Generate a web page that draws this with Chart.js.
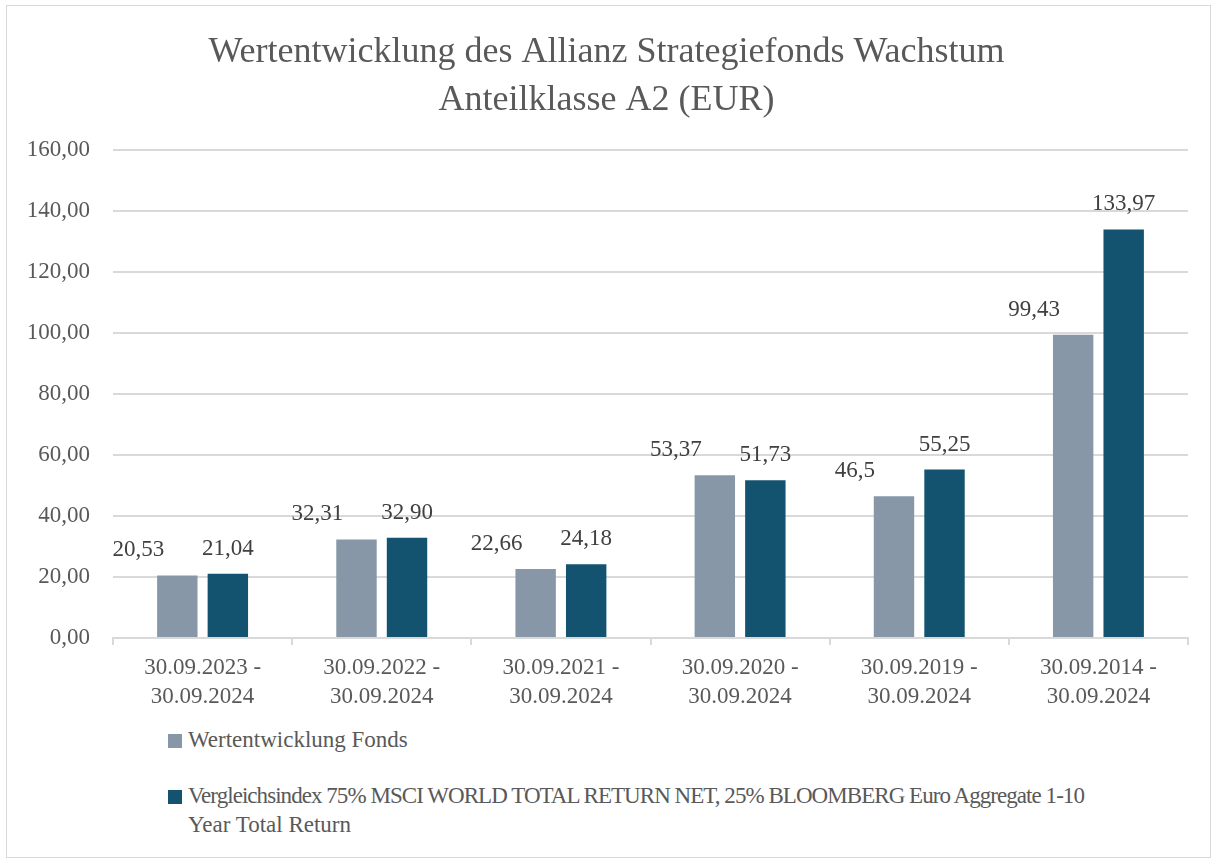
<!DOCTYPE html>
<html>
<head>
<meta charset="utf-8">
<script src="https://cdn.jsdelivr.net/npm/chart.js@4"></script>
<style>
  body { margin: 0; background: #fff; }
  #frame { position: absolute; left: 6px; top: 5px; width: 1203px; height: 851px; border: 1px solid #d9d9d9; }
  #wrap { position: absolute; left: 0; top: 0; width: 1213px; height: 724px; }
  .leg { position: absolute; left: 168px; font: 23px 'Liberation Serif', 'Times New Roman', serif; line-height: 29px; color: #595959; }
  .leg .box { position: absolute; left: 0; top: 9px; width: 14px; height: 14px; }
  .leg .txt { display: block; margin-left: 20px; white-space: nowrap; }
  .leg .tight { letter-spacing: -0.95px; }
</style>
</head>
<body>
<div id="frame"></div>
<div id="wrap"><canvas id="chart"></canvas></div>
<div id="legend"></div>
<script>
var periods = [
  ['30.09.2023 -', '30.09.2024'],
  ['30.09.2022 -', '30.09.2024'],
  ['30.09.2021 -', '30.09.2024'],
  ['30.09.2020 -', '30.09.2024'],
  ['30.09.2019 -', '30.09.2024'],
  ['30.09.2014 -', '30.09.2024']
];
var fondsValues = [20.53, 32.31, 22.66, 53.37, 46.5, 99.43];
var indexValues = [21.04, 32.90, 24.18, 51.73, 55.25, 133.97];
var fondsLabels = ['20,53', '32,31', '22,66', '53,37', '46,5', '99,43'];
var indexLabels = ['21,04', '32,90', '24,18', '51,73', '55,25', '133,97'];
var seriesNames = [
  'Wertentwicklung Fonds',
  'Vergleichsindex 75% MSCI WORLD TOTAL RETURN NET, 25% BLOOMBERG Euro Aggregate 1-10\nYear Total Return'
];
var yTicks = [0, 20, 40, 60, 80, 100, 120, 140, 160];
var colors = ['#8797a8', '#14536f'];

var serif = "'Liberation Serif', 'Times New Roman', serif";

// value labels above the bars (fund labels sit left of their bar, like the original)
var valueLabels = {
  id: 'valueLabels',
  afterDatasetsDraw: function (chart) {
    var ctx = chart.ctx;
    var texts = [fondsLabels, indexLabels];
    ctx.save();
    ctx.font = '23px ' + serif;
    ctx.fillStyle = '#404040';
    ctx.textAlign = 'center';
    ctx.textBaseline = 'alphabetic';
    chart.data.datasets.forEach(function (ds, i) {
      chart.getDatasetMeta(i).data.forEach(function (bar, j) {
        var dx = i === 0 ? -39 : 0;
        ctx.fillText(texts[i][j], bar.x + dx, bar.y - 19);
      });
    });
    ctx.restore();
  }
};

var cv = document.getElementById('chart');
var stockChartDraw = new Chart(cv, {
  type: 'bar',
  data: {
    labels: periods,
    datasets: [{
      label: seriesNames[0],
      data: fondsValues,
      backgroundColor: colors[0],
      categoryPercentage: 0.564,
      barPercentage: 0.8
    }, {
      label: seriesNames[1],
      data: indexValues,
      backgroundColor: colors[1],
      categoryPercentage: 0.564,
      barPercentage: 0.8
    }]
  },
  options: {
    responsive: true,
    maintainAspectRatio: false,
    animation: false,
    layout: { padding: { left: 25, right: 25, top: 0, bottom: 5 } },
    plugins: {
      legend: { display: false },
      tooltip: { enabled: false },
      title: {
        display: true,
        text: ['Wertentwicklung des Allianz Strategiefonds Wachstum', 'Anteilklasse A2 (EUR)'],
        color: '#595959',
        font: { family: serif, size: 36, weight: 'normal', lineHeight: 1.333 },
        padding: { top: 29, bottom: 25 }
      }
    },
    scales: {
      x: {
        grid: { drawOnChartArea: false, color: '#d9d9d9', lineWidth: 2, tickLength: 7, offset: true },
        border: { color: '#d9d9d9', width: 2 },
        ticks: {
          color: '#595959',
          padding: 8,
          maxRotation: 0,
          font: { family: serif, size: 23, lineHeight: 1.26 }
        }
      },
      y: {
        min: 0,
        max: 160,
        afterBuildTicks: function (scale) {
          scale.ticks = yTicks.map(function (v) { return { value: v }; });
        },
        afterFit: function (scale) { scale.width = 88; },
        grid: { color: '#d9d9d9', lineWidth: 2, drawTicks: false },
        border: { display: false },
        ticks: {
          color: '#595959',
          padding: 23,
          font: { family: serif, size: 23 },
          callback: function (v) { return v.toFixed(2).replace('.', ','); }
        }
      }
    }
  },
  plugins: [valueLabels]
});

// legend as html, two rows like the original
var legend = document.getElementById('legend');
var legTops = [725, 781];
seriesNames.forEach(function (name, i) {
  var item = document.createElement('div');
  item.className = 'leg';
  item.style.top = legTops[i] + 'px';
  var box = document.createElement('span');
  box.className = 'box';
  box.style.background = colors[i];
  item.appendChild(box);
  name.split('\n').forEach(function (line, k, all) {
    var txt = document.createElement('span');
    txt.className = 'txt';
    // the long first line is set tighter in the original
    if (all.length > 1 && k === 0) txt.className += ' tight';
    txt.textContent = line;
    item.appendChild(txt);
  });
  legend.appendChild(item);
});
</script>
</body>
</html>
